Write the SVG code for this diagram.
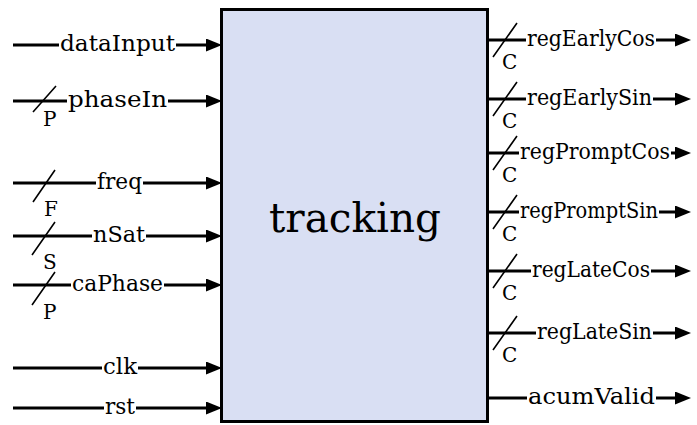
<svg xmlns="http://www.w3.org/2000/svg" width="697" height="425" viewBox="0 0 697 425">
<style>
.w{stroke:#000;stroke-width:3;fill:none}
.s{stroke:#000;stroke-width:1.6;fill:none}
.l{font-family:"DejaVu Serif",serif;font-size:23px;fill:#000}
.o{font-family:"DejaVu Serif",serif;font-size:22px;fill:#000}
.b{font-family:"DejaVu Serif",serif;font-size:20px;fill:#000}
.t{font-family:"DejaVu Serif",serif;font-size:41px;fill:#000}
</style>
<defs>
<marker id="ah" markerUnits="userSpaceOnUse" markerWidth="16" markerHeight="14" refX="5" refY="6.5" orient="auto"><path d="M0,0 L16,6.5 L0,13 z" fill="#000"/></marker>
</defs>
<rect width="697" height="425" fill="#fff"/>
<g id="tracking">
<rect x="221.5" y="9.5" width="266" height="412" fill="#d9dff3" stroke="#000" stroke-width="3"/>
<text class="t" x="355" y="232" text-anchor="middle" textLength="172" lengthAdjust="spacingAndGlyphs">tracking</text>
</g>
<g id="connectors">
<path class="w" d="M13,45 H59 M176,45 H211" marker-end="url(#ah)"/>
<path class="w" d="M13,101 H67 M168,101 H211" marker-end="url(#ah)"/>
<path class="w" d="M13,183 H96 M143,183 H211" marker-end="url(#ah)"/>
<path class="w" d="M13,236 H92 M146,236 H211" marker-end="url(#ah)"/>
<path class="w" d="M13,285 H71 M164,285 H211" marker-end="url(#ah)"/>
<path class="w" d="M13,368 H102 M138,368 H211" marker-end="url(#ah)"/>
<path class="w" d="M13,408 H104 M136,408 H211" marker-end="url(#ah)"/>
<path class="w" d="M489,40 H526 M656,40 H680" marker-end="url(#ah)"/>
<path class="w" d="M489,99 H526 M653,99 H680" marker-end="url(#ah)"/>
<path class="w" d="M489,153 H519 M671,153 H680" marker-end="url(#ah)"/>
<path class="w" d="M489,212 H519 M659,212 H680" marker-end="url(#ah)"/>
<path class="w" d="M489,271 H531 M651,271 H680" marker-end="url(#ah)"/>
<path class="w" d="M489,333 H536 M653,333 H680" marker-end="url(#ah)"/>
<path class="w" d="M489,398 H527 M656,398 H680" marker-end="url(#ah)"/>
<path class="s" d="M33,112 L56,86 M33,202 L55,170 M32,255 L55,222 M32,305 L55,272"/>
<path class="s" d="M493,57 L517,23 M493,116 L517,82 M493,170 L517,136 M493,229 L517,195 M493,288 L517,254 M493,350 L517,316"/>
</g>
<g id="labels">
<text class="l" x="60" y="51" textLength="115" lengthAdjust="spacingAndGlyphs">dataInput</text>
<text class="l" x="68" y="107" textLength="99" lengthAdjust="spacingAndGlyphs">phaseIn</text>
<text class="l" x="97" y="189" textLength="45" lengthAdjust="spacingAndGlyphs">freq</text>
<text class="l" x="93" y="242" textLength="52" lengthAdjust="spacingAndGlyphs">nSat</text>
<text class="l" x="72" y="291" textLength="91" lengthAdjust="spacingAndGlyphs">caPhase</text>
<text class="l" x="103" y="374" textLength="34" lengthAdjust="spacingAndGlyphs">clk</text>
<text class="l" x="105" y="414" textLength="30" lengthAdjust="spacingAndGlyphs">rst</text>
<text class="b" x="43" y="126">P</text>
<text class="b" x="44" y="216">F</text>
<text class="b" x="43" y="269">S</text>
<text class="b" x="43" y="319">P</text>
<text class="o" x="527" y="46" textLength="128" lengthAdjust="spacingAndGlyphs">regEarlyCos</text>
<text class="o" x="527" y="105" textLength="125" lengthAdjust="spacingAndGlyphs">regEarlySin</text>
<text class="o" x="520" y="159" textLength="150" lengthAdjust="spacingAndGlyphs">regPromptCos</text>
<text class="o" x="520" y="218" textLength="138" lengthAdjust="spacingAndGlyphs">regPromptSin</text>
<text class="o" x="532" y="277" textLength="118" lengthAdjust="spacingAndGlyphs">regLateCos</text>
<text class="o" x="537" y="339" textLength="115" lengthAdjust="spacingAndGlyphs">regLateSin</text>
<text class="o" x="528" y="404" textLength="127" lengthAdjust="spacingAndGlyphs">acumValid</text>
<text class="b" x="502" y="69">C</text>
<text class="b" x="502" y="128">C</text>
<text class="b" x="502" y="182">C</text>
<text class="b" x="502" y="241">C</text>
<text class="b" x="502" y="300">C</text>
<text class="b" x="502" y="362">C</text>
</g>
</svg>
